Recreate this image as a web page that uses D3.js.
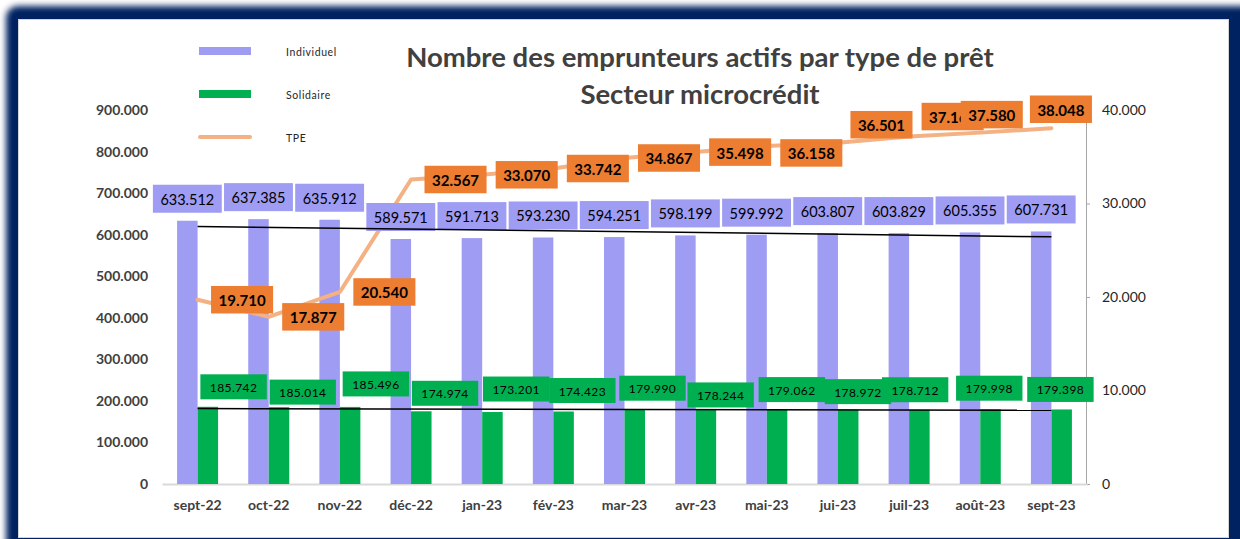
<!DOCTYPE html>
<html lang="fr">
<head>
<meta charset="UTF-8">
<title>Nombre des emprunteurs actifs par type de prêt</title>
<script src="https://d3js.org/d3.v7.min.js"></script>
<style>
  html, body { margin: 0; padding: 0; background: #ffffff; }
  body { font-family: Lato, 'Open Sans', sans-serif; }
  svg { display: block; }
</style>
</head>
<body>
<div id="chart"></div>
<script>
// ---- data ----
const months = ["sept-22", "oct-22", "nov-22", "déc-22", "jan-23", "fév-23", "mar-23",
                "avr-23", "mai-23", "jui-23", "juil-23", "août-23", "sept-23"];
const individuel = [633512, 637385, 635912, 589571, 591713, 593230, 594251,
                    598199, 599992, 603807, 603829, 605355, 607731];
const solidaire = [185742, 185014, 185496, 174974, 173201, 174423, 179990,
                   178244, 179062, 178972, 178712, 179998, 179398];
const tpe = [19710, 17877, 20540, 32567, 33070, 33742, 34867,
             35498, 36158, 36501, 37160, 37580, 38048];
const leftTicks = [0, 100000, 200000, 300000, 400000, 500000, 600000, 700000, 800000, 900000];
const rightTicks = [0, 10000, 20000, 30000, 40000];
const legendItems = ["Individuel", "Solidaire", "TPE"];

// manual label nudges (as placed in the original workbook)
const solLabelNudge = [[36, -20], [34, -15], [36, -23], [34, -18], [34, -23], [29, -21], [28, -21],
                       [25, -15], [25, -20], [20, -18], [6, -20], [9, -21], [9, -20]];
const tpeLabelNudge = [[14, 0], [14, 0], [14, 0], [14, 0], [14, 0], [14, 0], [14, 0],
                       [14, 0], [14, 7], [13, -18], [13, -20], [-19, -18], [-21, -19]];

const W = 1240, H = 539;
const C = {
  navy: "#002060",
  indiv: "#9f9cf3",
  sol: "#00b050",
  tpeLine: "#f4b183",
  tpeBox: "#ed7d31",
  text: "#404040"
};

const fr = d3.formatLocale({decimal: ",", thousands: ".", grouping: [3], currency: ["", ""]});
const fmt = fr.format(",d");

const svg = d3.select("#chart").append("svg")
  .attr("width", W).attr("height", H);

// ---- frame ----
const defs = svg.append("defs");
defs.append("filter").attr("id", "blur")
  .attr("x", "-5%").attr("y", "-5%").attr("width", "110%").attr("height", "110%")
  .append("feGaussianBlur").attr("stdDeviation", 3);

svg.append("rect").attr("x", 6).attr("y", 6).attr("width", 1260).attr("height", 600)
  .attr("rx", 12).attr("fill", C.navy).attr("filter", "url(#blur)");
svg.append("rect").attr("x", 18.5).attr("y", 19.5).attr("width", 1210).attr("height", 518)
  .attr("fill", "#ffffff").attr("stroke", "#d4d4d4").attr("stroke-width", 1);

// ---- scales ----
const x = d3.scaleBand().domain(months).range([162, 1087]);
const yL = d3.scaleLinear().domain([0, 900000]).range([484, 110]);
const yR = d3.scaleLinear().domain([0, 40000]).range([484, 110]);
const sub = d3.scaleBand().domain(["indiv", "sol"]).range([-20.5, 20.5]);
const cx = m => x(m) + x.bandwidth() / 2;

// ---- axes ----
const gLeft = svg.append("g").attr("transform", "translate(148,0)")
  .call(d3.axisLeft(yL).tickValues(leftTicks).tickSize(0).tickPadding(0).tickFormat(fmt));
gLeft.select(".domain").remove();
gLeft.selectAll("text").attr("font-family", "Lato, sans-serif").attr("font-size", 14)
  .attr("font-weight", 700).attr("fill", C.text);

const gRight = svg.append("g").attr("transform", "translate(1086,0)")
  .call(d3.axisRight(yR).tickValues(rightTicks).tickSize(4).tickPadding(12).tickFormat(fmt));
gRight.select(".domain").attr("stroke", "#a6a6a6");
gRight.selectAll("line").attr("stroke", "#a6a6a6");
gRight.selectAll("text").attr("font-family", "Lato, sans-serif").attr("font-size", 14)
  .attr("fill", "#262626");

const gBottom = svg.append("g").attr("transform", "translate(0,484)")
  .call(d3.axisBottom(x).tickSize(0).tickPadding(16));
gBottom.select(".domain").attr("stroke", "#d9d9d9").attr("stroke-width", 2);
gBottom.selectAll("text").attr("font-family", "Lato, sans-serif").attr("font-size", 14)
  .attr("font-weight", 700).attr("fill", C.text);

// ---- bars ----
svg.append("g").selectAll("rect").data(individuel).join("rect")
  .attr("x", (d, i) => cx(months[i]) + sub("indiv"))
  .attr("width", sub.bandwidth())
  .attr("y", d => yL(d)).attr("height", d => yL(0) - yL(d))
  .attr("fill", C.indiv);

svg.append("g").selectAll("rect").data(solidaire).join("rect")
  .attr("x", (d, i) => cx(months[i]) + sub("sol"))
  .attr("width", sub.bandwidth())
  .attr("y", d => yL(d)).attr("height", d => yL(0) - yL(d))
  .attr("fill", C.sol);

// ---- TPE line ----
svg.append("path").datum(tpe)
  .attr("fill", "none").attr("stroke", C.tpeLine).attr("stroke-width", 4)
  .attr("stroke-linejoin", "round").attr("stroke-linecap", "round")
  .attr("d", d3.line().x((d, i) => cx(months[i])).y(d => yR(d)));

// box label helper
function boxLabel(g, cxv, cyv, txt, opt) {
  const t = g.append("text").text(txt)
    .attr("font-family", "Lato, sans-serif")
    .attr("font-size", opt.size).attr("font-weight", opt.weight || 400)
    .attr("letter-spacing", opt.spacing || 0)
    .attr("fill", "#000").attr("text-anchor", "middle")
    .attr("dominant-baseline", "central")
    .attr("x", cxv).attr("y", cyv + 0.5);
  const w = t.node().getComputedTextLength() + 2 * opt.pad;
  g.insert("rect", "text:last-child")
    .attr("x", cxv - w / 2).attr("y", cyv - opt.h / 2)
    .attr("width", w).attr("height", opt.h).attr("fill", opt.fill);
  return w;
}

// individuel labels
const gIndLab = svg.append("g");
individuel.forEach((d, i) => {
  const g = gIndLab.append("g");
  boxLabel(g, cx(months[i]) + sub("indiv") + sub.bandwidth() / 2, yL(d) - 22, fmt(d),
    {size: 14.5, pad: 7.5, h: 28, fill: C.indiv});
});

// ---- trendlines (linear regression) ----
function trend(vals) {
  const n = vals.length, idx = d3.range(n);
  const mx = d3.mean(idx), my = d3.mean(vals);
  const b = d3.sum(idx, i => (i - mx) * (vals[i] - my)) / d3.sum(idx, i => (i - mx) ** 2);
  return [my - b * mx, b];
}
[individuel, solidaire].forEach(vals => {
  const [a, b] = trend(vals);
  const n = vals.length;
  svg.append("line")
    .attr("x1", cx(months[0])).attr("y1", yL(a))
    .attr("x2", cx(months[n - 1])).attr("y2", yL(a + b * (n - 1)))
    .attr("stroke", "#000").attr("stroke-width", 1.5);
});

// solidaire labels
const gSolLab = svg.append("g");
solidaire.forEach((d, i) => {
  const g = gSolLab.append("g");
  const [dx, dy] = solLabelNudge[i];
  boxLabel(g, cx(months[i]) + dx, yL(d) + dy, fmt(d),
    {size: 12, pad: 9.5, h: 25, fill: C.sol, spacing: 0.4});
});

// TPE labels (left-anchored box right of the point)
const gTpeLab = svg.append("g");
tpe.forEach((d, i) => {
  const g = gTpeLab.append("g");
  const [dx, dy] = tpeLabelNudge[i];
  const bw = 61;
  boxLabel(g, cx(months[i]) + dx + bw / 2, yR(d) + dy, fmt(d),
    {size: 15, weight: 700, pad: 7.5, h: 27.5, fill: C.tpeBox});
});

// ---- title ----
const title = svg.append("text").attr("text-anchor", "middle")
  .attr("font-family", "Lato, sans-serif").attr("font-weight", 700)
  .attr("font-size", 27.5).attr("fill", C.text);
title.append("tspan").attr("x", 700).attr("y", 67).text("Nombre des emprunteurs actifs par type de prêt");
title.append("tspan").attr("x", 700).attr("y", 104).text("Secteur microcrédit");

// ---- legend ----
const legend = svg.append("g");
legendItems.forEach((name, i) => {
  const y = [51, 94, 137][i];
  if (name === "TPE") {
    legend.append("line").attr("x1", 200).attr("x2", 250).attr("y1", y).attr("y2", y)
      .attr("stroke", C.tpeLine).attr("stroke-width", 4).attr("stroke-linecap", "round");
  } else {
    legend.append("rect").attr("x", 199).attr("y", y - 4).attr("width", 52).attr("height", 8)
      .attr("fill", name === "Individuel" ? C.indiv : C.sol);
  }
  legend.append("text").attr("x", 286).attr("y", y + 1).attr("dominant-baseline", "central")
    .attr("font-family", "Lato, sans-serif").attr("font-size", 10.5)
    .attr("letter-spacing", 0.6).attr("fill", "#262626").text(name);
});
</script>
</body>
</html>
